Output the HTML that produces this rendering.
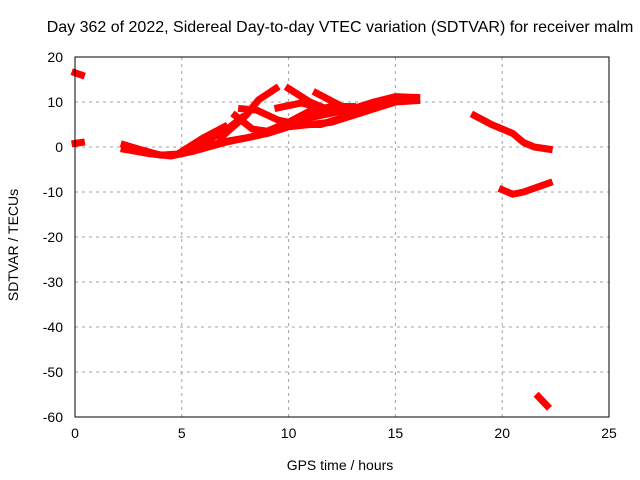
<!DOCTYPE html>
<html><head><meta charset="utf-8"><style>body{margin:0;background:#fff}svg{display:block;font-family:"Liberation Sans",sans-serif}</style></head>
<body>
<svg id="c" width="640" height="480"></svg>
<script>
const xTicks=[0,5,10,15,20,25];
const yTicks=[20,10,0,-10,-20,-30,-40,-50,-60];
const seriesMain=[[2.3,0.5],[3,-0.5],[4,-1.8],[5,-1.5],[6,0],[7,1.2],[8,2],[9,3],[10,4.5],[11,5],[12,5.5],[13,7],[14,8.5],[15,10],[16,10.3]];
const seriesThick2=[[2.3,-0.5],[3.5,-1.5],[4.5,-2],[5.5,-1],[7,1],[8.5,2.5],[10,5.5],[12,7.5],[13,8.5],[14,10],[15,11.2],[16,11]];
const branch1=[[5,-1],[6,2],[7,4.5]];
const branch2=[[6,1],[7,3.5],[7.8,6.5]];
const branch3=[[6.8,2],[8,7],[8.6,10.5],[9.4,13]];
const branch4=[[7.8,8.5],[8.5,8.2],[9.5,6],[10.5,5],[11.5,5],[12.5,6.5]];
const branch5=[[7.5,7],[8.3,4],[9,3.5],[10,5.5],[11,8],[12,9],[13,9]];
const branch6=[[10,13],[11,10],[12,8],[13,8]];
const branch7=[[11.3,12],[12.5,9],[13.5,8]];
const branch8=[[9.5,8.7],[10.6,9.8],[11.2,9]];
const late1=[[18.7,7],[19.5,5],[20.5,3],[21,1],[21.5,0],[22.2,-0.5]];
const late2=[[20,-9.5],[20.5,-10.5],[21,-10],[22.2,-8]];
const iso1=[[0,16.5],[0.3,16]];
const iso2=[[0,0.8],[0.3,1]];
const iso3=[[21.7,-55.5],[22.1,-57.5]];
const allSeries=[seriesMain,seriesThick2,branch1,branch2,branch3,branch4,branch5,branch6,branch7,branch8,late1,late2,iso1,iso2,iso3];
const L=75,R=609,T=57,B=417;
const xs=v=>L+(v-0)/25*(R-L);
const ys=v=>T+(20-v)/80*(B-T);
const svg=document.getElementById('c');
const NS='http://www.w3.org/2000/svg';
function mk(t,a){const e=document.createElementNS(NS,t);for(const k in a)e.setAttribute(k,a[k]);svg.appendChild(e);return e;}
xTicks.forEach(v=>{
 if(v>0&&v<25){const g=mk('line',{x1:xs(v),x2:xs(v),y1:T,y2:B,stroke:'#a0a0a0','stroke-dasharray':'3,4'});
 
 }
 const t=mk('text',{x:xs(v),y:B+21,'text-anchor':'middle','font-size':14});t.textContent=v;
 
 
});
yTicks.forEach(v=>{
 if(v<20&&v>-60){const g=mk('line',{x1:L,x2:R,y1:ys(v),y2:ys(v),stroke:'#a0a0a0','stroke-dasharray':'3,4'});
 
 }
 const t=mk('text',{x:L-12,y:ys(v)+5,'text-anchor':'end','font-size':14});t.textContent=v;
 
 
});
allSeries.forEach(s=>{
 const p=mk('polyline',{points:s.map(d=>xs(d[0])+','+ys(d[1])).join(' '),fill:'none',stroke:'#ff0000','stroke-width':7,'stroke-linejoin':'round','stroke-linecap':'square'});
 
 
});
const fr=mk('rect',{x:L,y:T,width:R-L,height:B-T,fill:'none',stroke:'#000'});


</script>
<div style="position:absolute;left:0;top:0;width:640px;height:480px;font-family:'Liberation Sans',sans-serif;font-size:14px">
<div style="position:absolute;left:0;width:680px;top:19px;text-align:center;font-size:16px;white-space:nowrap;">Day 362 of 2022, Sidereal Day-to-day VTEC variation (SDTVAR) for receiver malm</div>
<div style="position:absolute;left:240px;width:200px;top:457px;text-align:center;">GPS time / hours</div>
<div style="position:absolute;left:-62px;width:150px;top:237px;text-align:center;transform:rotate(-90deg);">SDTVAR / TECUs</div>
</div>
</body></html>
